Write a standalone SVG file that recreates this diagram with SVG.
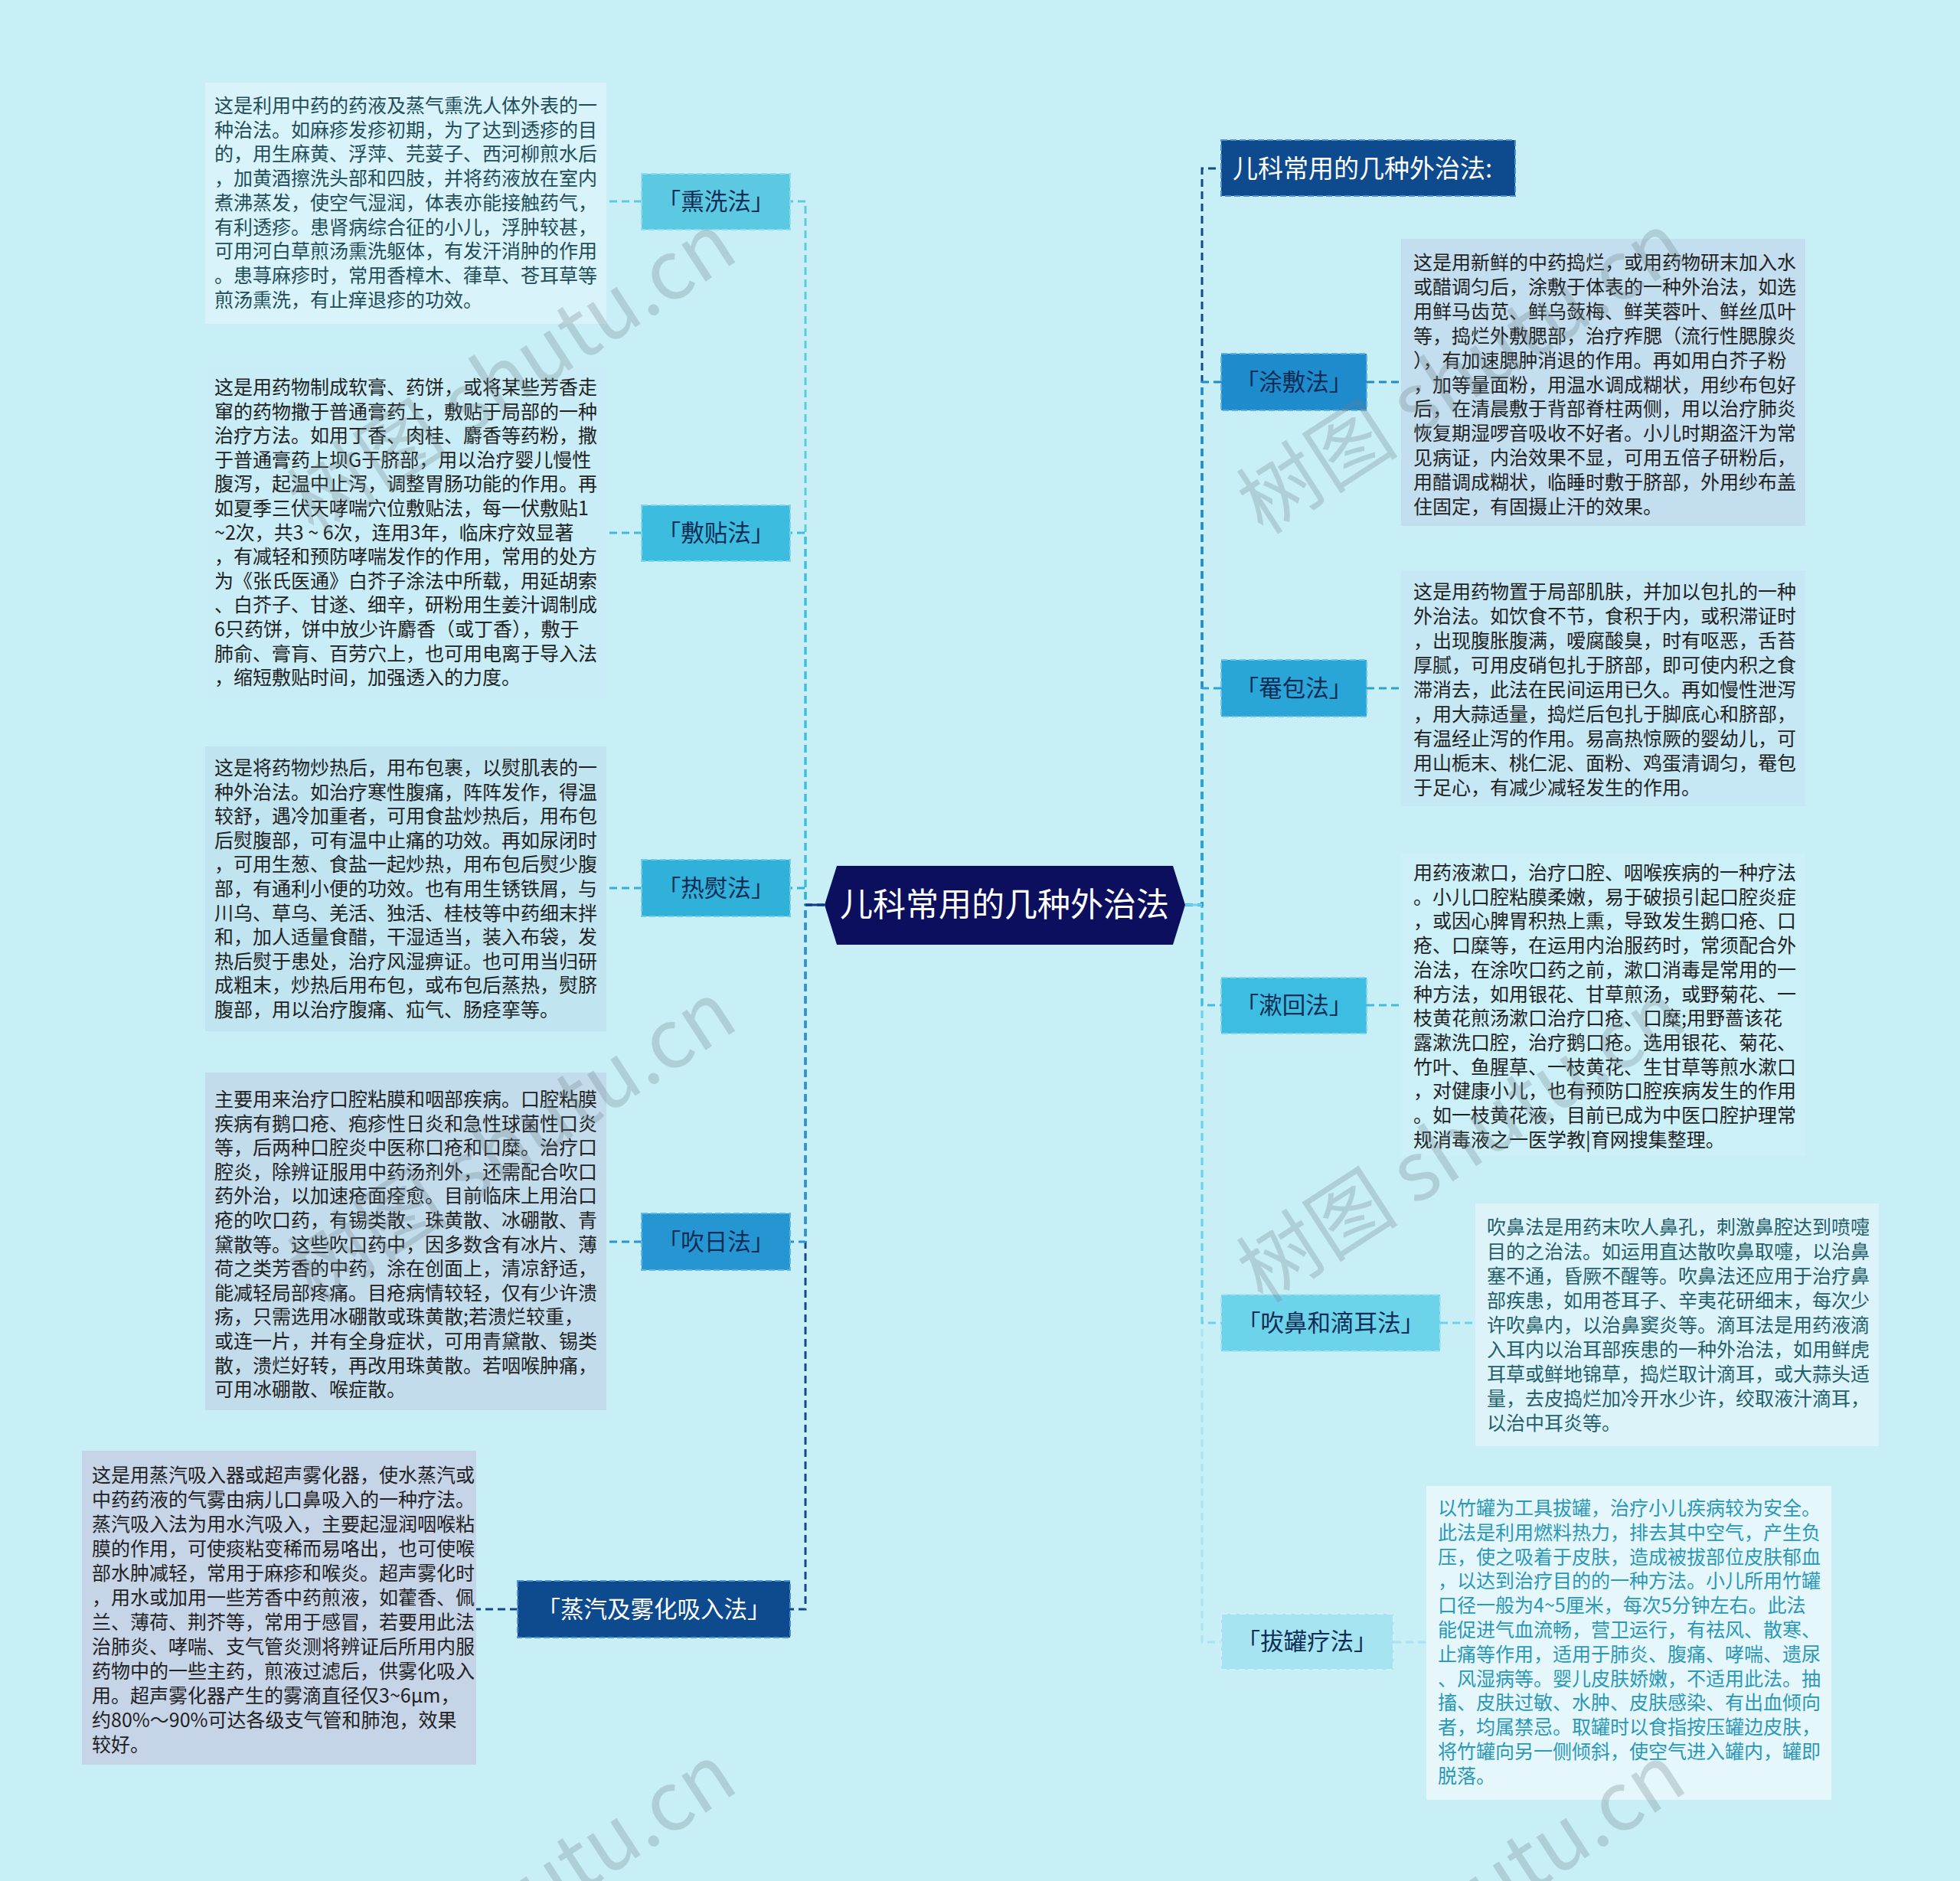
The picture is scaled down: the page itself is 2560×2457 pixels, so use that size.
<svg xmlns="http://www.w3.org/2000/svg" width="2560" height="2457" viewBox="0 0 2560 2457">
<defs>
<style>
.bg{fill:#c9eff6}
.body{font-family:"Noto Sans CJK SC","Noto Sans",sans-serif;font-size:25px;fill:#222}
.lbl{font-family:"Noto Sans CJK SC","Noto Sans",sans-serif;font-size:30.5px;text-anchor:middle;fill:#0d2d55}
.conn{fill:none;stroke-width:3;stroke-dasharray:10 6}
.nd{stroke-width:2;stroke-dasharray:8 4}
.wm{font-family:"Noto Sans CJK SC","Noto Sans",sans-serif;font-size:106px;fill:#6f7f86;opacity:0.28}
</style>
</defs>
<rect class="bg" x="0" y="0" width="2560" height="2457"/>

<g id="connectors">
  <path class="conn" stroke="#5cc9e3" d="M1077,1182 H1052 V263 H1032"/>
  <path class="conn" stroke="#3cbde0" d="M1077,1182 H1052 V696 H1032"/>
  <path class="conn" stroke="#2fb1da" d="M1077,1182 H1052 V1160 H1032"/>
  <path class="conn" stroke="#0e4a8e" d="M1077,1182 H1052 V2102 H1032"/>
  <path class="conn" stroke="#2596d2" d="M1077,1182 H1052 V1622 H1032"/>
  <path fill="none" stroke="#1a3a85" stroke-width="3" d="M1052,1182 H1077"/>
  <path class="conn" stroke="#a6e4f1" d="M1548,1182 H1570 V2145 H1595"/>
  <path class="conn" stroke="#6dd3ea" d="M1548,1182 H1570 V1728 H1595"/>
  <path class="conn" stroke="#3dbde1" d="M1548,1182 H1570 V1313 H1595"/>
  <path class="conn" stroke="#0e4a8e" d="M1548,1182 H1570 V220 H1595"/>
  <path class="conn" stroke="#1e8bcc" d="M1548,1182 H1570 V499 H1595"/>
  <path class="conn" stroke="#2aa5d8" d="M1548,1182 H1570 V899 H1595"/>
  <path fill="none" stroke="#6dd3ea" stroke-width="3" d="M1548,1182 H1570"/>
  <path class="conn" stroke="#5cc9e3" d="M838,263 H792"/>
  <path class="conn" stroke="#3cbde0" d="M838,696 H792"/>
  <path class="conn" stroke="#2fb1da" d="M838,1160 H792"/>
  <path class="conn" stroke="#2596d2" d="M838,1622 H792"/>
  <path class="conn" stroke="#0e4a8e" d="M676,2102 H622"/>
  <path class="conn" stroke="#1e8bcc" d="M1785,499 H1830"/>
  <path class="conn" stroke="#2aa5d8" d="M1785,899 H1830"/>
  <path class="conn" stroke="#3dbde1" d="M1785,1313 H1830"/>
  <path class="conn" stroke="#6dd3ea" d="M1881,1728 H1927"/>
  <path class="conn" stroke="#a6e4f1" d="M1820,2145 H1863"/>
</g>

<g id="center">
  <polygon points="1077,1182 1093,1131 1532,1131 1548,1182 1532,1234 1093,1234" fill="#0b0f5e"/>
  <text x="1312" y="1197" font-family="Noto Sans CJK SC, sans-serif" font-size="43" fill="#ffffff" text-anchor="middle">儿科常用的几种外治法</text>
</g>

<g id="title">
  <rect x="1595" y="183" width="384" height="73" fill="#0e4a8e" stroke="#4d8fcf" class="nd"/>
  <text x="1610" y="232" font-family="Noto Sans CJK SC, sans-serif" font-size="33" fill="#ffffff">儿科常用的几种外治法:</text>
</g>

<g id="n-xunxi">
  <rect x="838" y="227" width="194" height="73" fill="#5cc9e3" stroke="#8fdcef" class="nd"/>
  <text class="lbl" x="935" y="274">「熏洗法」</text>
</g>
<g id="n-futie">
  <rect x="838" y="660" width="194" height="73" fill="#3cbde0" stroke="#7fd3ec" class="nd"/>
  <text class="lbl" x="935" y="707">「敷贴法」</text>
</g>
<g id="n-reyun">
  <rect x="838" y="1123" width="194" height="74" fill="#2fb1da" stroke="#70cdea" class="nd"/>
  <text class="lbl" x="935" y="1171">「热熨法」</text>
</g>
<g id="n-chuiri">
  <rect x="838" y="1585" width="194" height="74" fill="#2596d2" stroke="#62b6e4" class="nd"/>
  <text class="lbl" x="935" y="1633">「吹日法」</text>
</g>
<g id="n-zhengqi">
  <rect x="676" y="2065" width="356" height="74" fill="#0e4a8e" stroke="#4d8fcf" class="nd"/>
  <text class="lbl" x="854" y="2113" style="fill:#ffffff">「蒸汽及雾化吸入法」</text>
</g>

<g id="n-tufu">
  <rect x="1595" y="462" width="190" height="74" fill="#1e8bcc" stroke="#5fb0e0" class="nd"/>
  <text class="lbl" x="1690" y="510">「涂敷法」</text>
</g>
<g id="n-yanbao">
  <rect x="1595" y="862" width="190" height="74" fill="#2aa5d8" stroke="#6cc5e8" class="nd"/>
  <text class="lbl" x="1690" y="910">「罨包法」</text>
</g>
<g id="n-shuhui">
  <rect x="1595" y="1277" width="190" height="73" fill="#3dbde1" stroke="#80d4ec" class="nd"/>
  <text class="lbl" x="1690" y="1324">「漱回法」</text>
</g>
<g id="n-chuibi">
  <rect x="1595" y="1691" width="286" height="74" fill="#6dd3ea" stroke="#a3e4f2" class="nd"/>
  <text class="lbl" x="1738" y="1739">「吹鼻和滴耳法」</text>
</g>
<g id="n-baguan">
  <rect x="1595" y="2108" width="225" height="73" fill="#a6e4f1" stroke="#cdf1f8" class="nd"/>
  <text class="lbl" x="1707" y="2155">「拔罐疗法」</text>
</g>

<g id="t-xunxi">
  <rect x="268" y="108" width="524" height="315" fill="#d8f3f9"/>
  <text class="body" style="fill:#1f4e5a" x="280" y="147">
    <tspan x="280">这是利用中药的药液及蒸气熏洗人体外表的一</tspan>
    <tspan x="280" dy="31.7">种治法。如麻疹发疹初期，为了达到透疹的目</tspan>
    <tspan x="280" dy="31.7">的，用生麻黄、浮萍、芫荽子、西河柳煎水后</tspan>
    <tspan x="280" dy="31.7">，加黄酒擦洗头部和四肢，并将药液放在室内</tspan>
    <tspan x="280" dy="31.7">煮沸蒸发，使空气湿润，体表亦能接触药气，</tspan>
    <tspan x="280" dy="31.7">有利透疹。患肾病综合征的小儿，浮肿较甚，</tspan>
    <tspan x="280" dy="31.7">可用河白草煎汤熏洗躯体，有发汗消肿的作用</tspan>
    <tspan x="280" dy="31.7">。患荨麻疹时，常用香樟木、葎草、苍耳草等</tspan>
    <tspan x="280" dy="31.7">煎汤熏洗，有止痒退疹的功效。</tspan>
  </text>
</g>

<g id="t-futie">
  <rect x="268" y="477" width="524" height="437" fill="#c9edf6"/>
  <text class="body" x="280" y="515">
    <tspan x="280">这是用药物制成软膏、药饼，或将某些芳香走</tspan>
    <tspan x="280" dy="31.6">窜的药物撒于普通膏药上，敷贴于局部的一种</tspan>
    <tspan x="280" dy="31.6">治疗方法。如用丁香、肉桂、麝香等药粉，撒</tspan>
    <tspan x="280" dy="31.6">于普通膏药上坝G于脐部，用以治疗婴儿慢性</tspan>
    <tspan x="280" dy="31.6">腹泻，起温中止泻，调整胃肠功能的作用。再</tspan>
    <tspan x="280" dy="31.6">如夏季三伏天哮喘穴位敷贴法，每一伏敷贴1</tspan>
    <tspan x="280" dy="31.6">~2次，共3 ~ 6次，连用3年，临床疗效显著</tspan>
    <tspan x="280" dy="31.6">，有减轻和预防哮喘发作的作用，常用的处方</tspan>
    <tspan x="280" dy="31.6">为《张氏医通》白芥子涂法中所载，用延胡索</tspan>
    <tspan x="280" dy="31.6">、白芥子、甘遂、细辛，研粉用生姜汁调制成</tspan>
    <tspan x="280" dy="31.6">6只药饼，饼中放少许麝香（或丁香），敷于</tspan>
    <tspan x="280" dy="31.6">肺俞、膏肓、百劳穴上，也可用电离于导入法</tspan>
    <tspan x="280" dy="31.6">，缩短敷贴时间，加强透入的力度。</tspan>
  </text>
</g>

<g id="t-reyun">
  <rect x="268" y="975" width="524" height="372" fill="#c0e4f0"/>
  <text class="body" x="280" y="1012">
    <tspan x="280">这是将药物炒热后，用布包裹，以熨肌表的一</tspan>
    <tspan x="280" dy="31.6">种外治法。如治疗寒性腹痛，阵阵发作，得温</tspan>
    <tspan x="280" dy="31.6">较舒，遇冷加重者，可用食盐炒热后，用布包</tspan>
    <tspan x="280" dy="31.6">后熨腹部，可有温中止痛的功效。再如尿闭时</tspan>
    <tspan x="280" dy="31.6">，可用生葱、食盐一起炒热，用布包后熨少腹</tspan>
    <tspan x="280" dy="31.6">部，有通利小便的功效。也有用生锈铁屑，与</tspan>
    <tspan x="280" dy="31.6">川乌、草乌、羌活、独活、桂枝等中药细末拌</tspan>
    <tspan x="280" dy="31.6">和，加人适量食醋，干湿适当，装入布袋，发</tspan>
    <tspan x="280" dy="31.6">热后熨于患处，治疗风湿痹证。也可用当归研</tspan>
    <tspan x="280" dy="31.6">成粗末，炒热后用布包，或布包后蒸热，熨脐</tspan>
    <tspan x="280" dy="31.6">腹部，用以治疗腹痛、疝气、肠痉挛等。</tspan>
  </text>
</g>

<g id="t-chuiri">
  <rect x="268" y="1401" width="524" height="441" fill="#c2dcec"/>
  <text class="body" x="280" y="1445">
    <tspan x="280">主要用来治疗口腔粘膜和咽部疾病。口腔粘膜</tspan>
    <tspan x="280" dy="31.6">疾病有鹅口疮、疱疹性日炎和急性球菌性口炎</tspan>
    <tspan x="280" dy="31.6">等，后两种口腔炎中医称口疮和口糜。治疗口</tspan>
    <tspan x="280" dy="31.6">腔炎，除辨证服用中药汤剂外，还需配合吹口</tspan>
    <tspan x="280" dy="31.6">药外治，以加速疮面痊愈。目前临床上用治口</tspan>
    <tspan x="280" dy="31.6">疮的吹口药，有锡类散、珠黄散、冰硼散、青</tspan>
    <tspan x="280" dy="31.6">黛散等。这些吹口药中，因多数含有冰片、薄</tspan>
    <tspan x="280" dy="31.6">荷之类芳香的中药，涂在创面上，清凉舒适，</tspan>
    <tspan x="280" dy="31.6">能减轻局部疼痛。目疮病情较轻，仅有少许溃</tspan>
    <tspan x="280" dy="31.6">疡，只需选用冰硼散或珠黄散;若溃烂较重，</tspan>
    <tspan x="280" dy="31.6">或连一片，并有全身症状，可用青黛散、锡类</tspan>
    <tspan x="280" dy="31.6">散，溃烂好转，再改用珠黄散。若咽喉肿痛，</tspan>
    <tspan x="280" dy="31.6">可用冰硼散、喉症散。</tspan>
  </text>
</g>

<g id="t-zhengqi">
  <rect x="107" y="1895" width="515" height="410" fill="#c6d4e8"/>
  <text class="body" x="120" y="1936">
    <tspan x="120">这是用蒸汽吸入器或超声雾化器，使水蒸汽或</tspan>
    <tspan x="120" dy="32">中药药液的气雾由病儿口鼻吸入的一种疗法。</tspan>
    <tspan x="120" dy="32">蒸汽吸入法为用水汽吸入，主要起湿润咽喉粘</tspan>
    <tspan x="120" dy="32">膜的作用，可使痰粘变稀而易咯出，也可使喉</tspan>
    <tspan x="120" dy="32">部水肿减轻，常用于麻疹和喉炎。超声雾化时</tspan>
    <tspan x="120" dy="32">，用水或加用一些芳香中药煎液，如藿香、佩</tspan>
    <tspan x="120" dy="32">兰、薄荷、荆芥等，常用于感冒，若要用此法</tspan>
    <tspan x="120" dy="32">治肺炎、哮喘、支气管炎测将辨证后所用内服</tspan>
    <tspan x="120" dy="32">药物中的一些主药，煎液过滤后，供雾化吸入</tspan>
    <tspan x="120" dy="32">用。超声雾化器产生的雾滴直径仅3~6μm，</tspan>
    <tspan x="120" dy="32">约80%～90%可达各级支气管和肺泡，效果</tspan>
    <tspan x="120" dy="32">较好。</tspan>
  </text>
</g>

<g id="t-tufu">
  <rect x="1830" y="312" width="528" height="375" fill="#c2deef"/>
  <text class="body" x="1846" y="352">
    <tspan x="1846">这是用新鲜的中药捣烂，或用药物研末加入水</tspan>
    <tspan x="1846" dy="31.9">或醋调匀后，涂敷于体表的一种外治法，如选</tspan>
    <tspan x="1846" dy="31.9">用鲜马齿苋、鲜乌蔹梅、鲜芙蓉叶、鲜丝瓜叶</tspan>
    <tspan x="1846" dy="31.9">等，捣烂外敷腮部，治疗痄腮（流行性腮腺炎</tspan>
    <tspan x="1846" dy="31.9">），有加速腮肿消退的作用。再如用白芥子粉</tspan>
    <tspan x="1846" dy="31.9">，加等量面粉，用温水调成糊状，用纱布包好</tspan>
    <tspan x="1846" dy="31.9">后，在清晨敷于背部脊柱两侧，用以治疗肺炎</tspan>
    <tspan x="1846" dy="31.9">恢复期湿啰音吸收不好者。小儿时期盗汗为常</tspan>
    <tspan x="1846" dy="31.9">见病证，内治效果不显，可用五倍子研粉后，</tspan>
    <tspan x="1846" dy="31.9">用醋调成糊状，临睡时敷于脐部，外用纱布盖</tspan>
    <tspan x="1846" dy="31.9">住固定，有固摄止汗的效果。</tspan>
  </text>
</g>

<g id="t-yanbao">
  <rect x="1830" y="745" width="528" height="308" fill="#c6e8f4"/>
  <text class="body" x="1846" y="782">
    <tspan x="1846">这是用药物置于局部肌肤，并加以包扎的一种</tspan>
    <tspan x="1846" dy="32">外治法。如饮食不节，食积于内，或积滞证时</tspan>
    <tspan x="1846" dy="32">，出现腹胀腹满，嗳腐酸臭，时有呕恶，舌苔</tspan>
    <tspan x="1846" dy="32">厚腻，可用皮硝包扎于脐部，即可使内积之食</tspan>
    <tspan x="1846" dy="32">滞消去，此法在民间运用已久。再如慢性泄泻</tspan>
    <tspan x="1846" dy="32">，用大蒜适量，捣烂后包扎于脚底心和脐部，</tspan>
    <tspan x="1846" dy="32">有温经止泻的作用。易高热惊厥的婴幼儿，可</tspan>
    <tspan x="1846" dy="32">用山栀末、桃仁泥、面粉、鸡蛋清调匀，罨包</tspan>
    <tspan x="1846" dy="32">于足心，有减少减轻发生的作用。</tspan>
  </text>
</g>

<g id="t-shuhui">
  <rect x="1830" y="1115" width="528" height="395" fill="#ccf0f8"/>
  <text class="body" x="1846" y="1149">
    <tspan x="1846">用药液漱口，治疗口腔、咽喉疾病的一种疗法</tspan>
    <tspan x="1846" dy="31.7">。小儿口腔粘膜柔嫩，易于破损引起口腔炎症</tspan>
    <tspan x="1846" dy="31.7">，或因心脾胃积热上熏，导致发生鹅口疮、口</tspan>
    <tspan x="1846" dy="31.7">疮、口糜等，在运用内治服药时，常须配合外</tspan>
    <tspan x="1846" dy="31.7">治法，在涂吹口药之前，漱口消毒是常用的一</tspan>
    <tspan x="1846" dy="31.7">种方法，如用银花、甘草煎汤，或野菊花、一</tspan>
    <tspan x="1846" dy="31.7">枝黄花煎汤漱口治疗口疮、口糜;用野蔷该花</tspan>
    <tspan x="1846" dy="31.7">露漱洗口腔，治疗鹅口疮。选用银花、菊花、</tspan>
    <tspan x="1846" dy="31.7">竹叶、鱼腥草、一枝黄花、生甘草等煎水漱口</tspan>
    <tspan x="1846" dy="31.7">，对健康小儿，也有预防口腔疾病发生的作用</tspan>
    <tspan x="1846" dy="31.7">。如一枝黄花液，目前已成为中医口腔护理常</tspan>
    <tspan x="1846" dy="31.7">规消毒液之一医学教|育网搜集整理。</tspan>
  </text>
</g>

<g id="t-chuibi">
  <rect x="1927" y="1572" width="527" height="317" fill="#dcf4f9"/>
  <text class="body" style="fill:#245f6d" x="1942" y="1612">
    <tspan x="1942">吹鼻法是用药末吹人鼻孔，刺激鼻腔达到喷嚏</tspan>
    <tspan x="1942" dy="32">目的之治法。如运用直达散吹鼻取嚏，以治鼻</tspan>
    <tspan x="1942" dy="32">塞不通，昏厥不醒等。吹鼻法还应用于治疗鼻</tspan>
    <tspan x="1942" dy="32">部疾患，如用苍耳子、辛夷花研细末，每次少</tspan>
    <tspan x="1942" dy="32">许吹鼻内，以治鼻窦炎等。滴耳法是用药液滴</tspan>
    <tspan x="1942" dy="32">入耳内以治耳部疾患的一种外治法，如用鲜虎</tspan>
    <tspan x="1942" dy="32">耳草或鲜地锦草，捣烂取计滴耳，或大蒜头适</tspan>
    <tspan x="1942" dy="32">量，去皮捣烂加冷开水少许，绞取液汁滴耳，</tspan>
    <tspan x="1942" dy="32">以治中耳炎等。</tspan>
  </text>
</g>

<g id="t-baguan">
  <rect x="1863" y="1941" width="529" height="410" fill="#e6f7fb"/>
  <text class="body" style="fill:#2a98b8" x="1878" y="1979">
    <tspan x="1878">以竹罐为工具拔罐，治疗小儿疾病较为安全。</tspan>
    <tspan x="1878" dy="31.8">此法是利用燃料热力，排去其中空气，产生负</tspan>
    <tspan x="1878" dy="31.8">压，使之吸着于皮肤，造成被拔部位皮肤郁血</tspan>
    <tspan x="1878" dy="31.8">，以达到治疗目的的一种方法。小儿所用竹罐</tspan>
    <tspan x="1878" dy="31.8">口径一般为4~5厘米，每次5分钟左右。此法</tspan>
    <tspan x="1878" dy="31.8">能促进气血流畅，营卫运行，有祛风、散寒、</tspan>
    <tspan x="1878" dy="31.8">止痛等作用，适用于肺炎、腹痛、哮喘、遗尿</tspan>
    <tspan x="1878" dy="31.8">、风湿病等。婴儿皮肤娇嫩，不适用此法。抽</tspan>
    <tspan x="1878" dy="31.8">搐、皮肤过敏、水肿、皮肤感染、有出血倾向</tspan>
    <tspan x="1878" dy="31.8">者，均属禁忌。取罐时以食指按压罐边皮肤，</tspan>
    <tspan x="1878" dy="31.8">将竹罐向另一侧倾斜，使空气进入罐内，罐即</tspan>
    <tspan x="1878" dy="31.8">脱落。</tspan>
  </text>
</g>

<g id="watermarks">
  <text class="wm" transform="translate(410,700) rotate(-33)">树图 shutu.cn</text>
  <text class="wm" transform="translate(410,1704) rotate(-33)">树图 shutu.cn</text>
  <text class="wm" transform="translate(410,2700) rotate(-33)">树图 shutu.cn</text>
  <text class="wm" transform="translate(1650,700) rotate(-33)">树图 shutu.cn</text>
  <text class="wm" transform="translate(1650,1704) rotate(-33)">树图 shutu.cn</text>
  <text class="wm" transform="translate(1650,2700) rotate(-33)">树图 shutu.cn</text>
</g>
</svg>
